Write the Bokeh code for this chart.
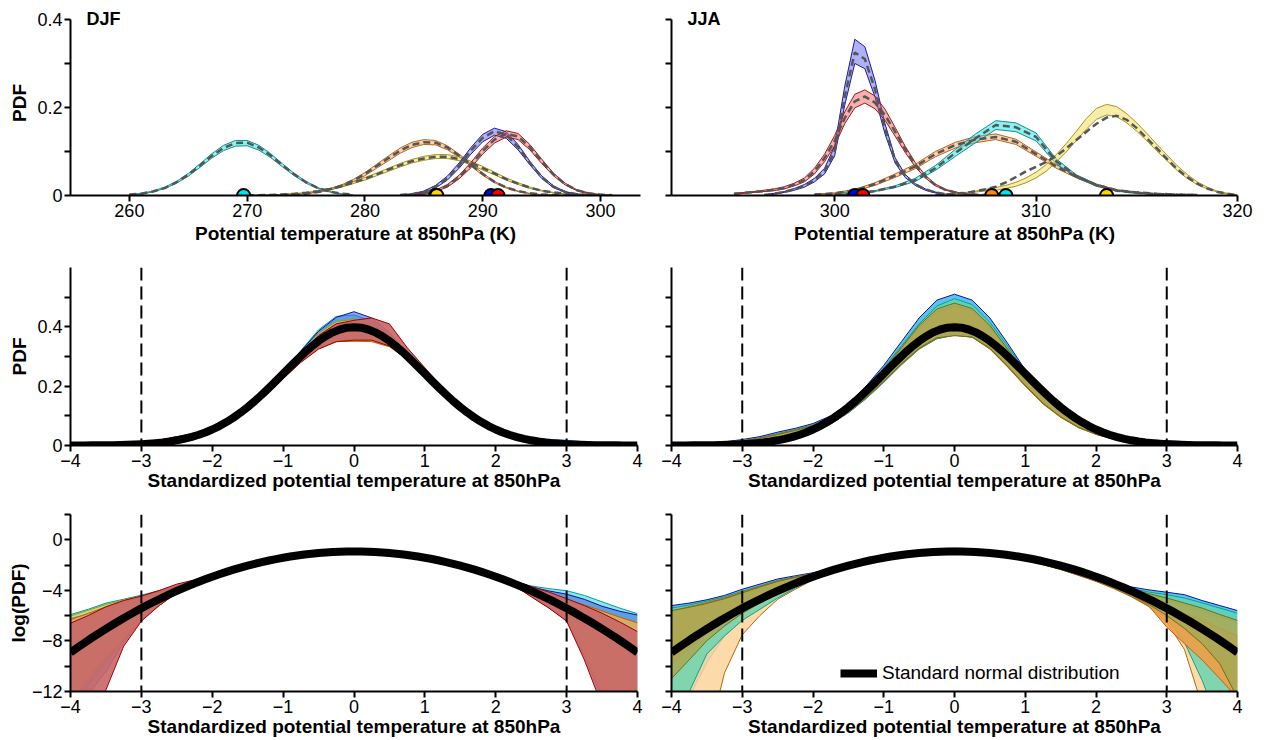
import numpy as np
from bokeh.plotting import figure
from bokeh.layouts import column, row
from bokeh.models import (Range1d, FixedTicker, CustomJSTickFormatter, Span, Label,
                          Legend, LegendItem, ColumnDataSource)
from bokeh.embed import file_html
from bokeh.resources import INLINE

FONT = "Liberation Sans"

# ---------------- Row 1 data: DJF (potential temperature, K) ----------------
djf_cyan_x = [260, 261, 262, 263, 264, 265, 266, 267, 268, 269, 270, 271, 272, 273, 274, 275, 276, 277, 278, 279]
djf_cyan_mid = [.002, .004, .009, .017, .030, .047, .068, .090, .108, .119, .120, .109, .091, .069, .048, .030, .017, .009, .004, .002]
djf_cyan_hi = [.002, .005, .010, .019, .032, .050, .072, .095, .114, .125, .125, .114, .095, .072, .050, .032, .018, .009, .004, .001]
djf_cyan_lo = [.001, .003, .008, .016, .028, .044, .064, .085, .102, .112, .113, .103, .086, .065, .045, .028, .016, .008, .003, .001]

djf_orange_x = [272, 273, 274, 275, 276, 277, 278, 279, 280, 281, 282, 283, 284, 285, 286, 287, 288, 289, 290, 291, 292, 293, 294, 295, 296, 297]
djf_orange_mid = [.0005, .001, .002, .004, .008, .014, .022, .034, .049, .067, .085, .102, .115, .121, .120, .109, .091, .070, .049, .031, .018, .010, .005, .002, .001, .000]
djf_orange_hi = [.001, .001, .002, .005, .009, .015, .024, .036, .052, .071, .090, .108, .121, .127, .125, .113, .094, .072, .051, .032, .019, .010, .005, .002, .001, .000]
djf_orange_lo = [.000, .001, .002, .004, .007, .012, .020, .031, .045, .062, .079, .096, .109, .116, .115, .104, .087, .067, .046, .029, .017, .009, .004, .002, .001, .000]

djf_yellow_x = [270, 271, 272, 273, 274, 275, 276, 277, 278, 279, 280, 281, 282, 283, 284, 285, 286, 287, 288, 289, 290, 291, 292, 293, 294, 295, 296, 297, 298, 299, 300]
djf_yellow_mid = [.0004, .0007, .0013, .0023, .0039, .0062, .0098, .0146, .021, .029, .038, .048, .059, .069, .078, .084, .088, .088, .083, .074, .062, .050, .037, .027, .018, .011, .007, .004, .002, .001, .0005]
djf_yellow_hi = [.0005, .0008, .0015, .0026, .0043, .0068, .0106, .0157, .023, .031, .041, .051, .062, .073, .082, .089, .093, .093, .088, .078, .066, .053, .040, .029, .019, .012, .007, .004, .002, .001, .0005]
djf_yellow_lo = [.0003, .0006, .0011, .0020, .0035, .0056, .0090, .0135, .019, .027, .035, .045, .055, .065, .074, .080, .084, .084, .079, .070, .058, .047, .035, .025, .016, .010, .006, .003, .002, .001, .0004]

djf_blue_x = [283, 284, 285, 286, 287, 288, 289, 290, 291, 292, 293, 294, 295, 296, 297, 298, 299]
djf_blue_mid = [.001, .003, .008, .020, .039, .068, .102, .131, .146, .138, .110, .074, .042, .020, .008, .003, .001]
djf_blue_hi = [.001, .004, .010, .023, .044, .074, .109, .139, .153, .145, .116, .078, .045, .022, .009, .003, .001]
djf_blue_lo = [.001, .003, .007, .017, .035, .062, .094, .122, .137, .130, .104, .070, .039, .018, .007, .002, .000]

djf_red_x = [283, 284, 285, 286, 287, 288, 289, 290, 291, 292, 293, 294, 295, 296, 297, 298, 299, 300, 301]
djf_red_mid = [.0004, .0014, .004, .010, .022, .042, .069, .101, .127, .140, .134, .110, .078, .048, .026, .012, .005, .002, .0005]
djf_red_hi = [.0005, .0017, .005, .012, .025, .046, .075, .108, .134, .147, .141, .116, .083, .051, .028, .013, .006, .002, .001]
djf_red_lo = [.0003, .0012, .003, .009, .019, .038, .063, .094, .119, .133, .127, .104, .073, .045, .024, .011, .004, .001, .000]

djf_means = [269.7, 286.0, 286.1, 290.7, 291.3]
djf_mean_colors = ["#00e5ee", "#ff8c00", "#ffd700", "#0000ff", "#ff0000"]

# ---------------- Row 1 data: JJA ----------------
jja_blue_x = [296.5, 297, 297.5, 298, 298.5, 299, 299.5, 300, 300.5, 301, 301.5, 302, 302.5, 303, 303.5, 304, 304.5, 305, 305.5, 306]
jja_blue_mid = [.001, .004, .008, .014, .022, .035, .055, .10, .225, .325, .31, .242, .152, .08, .045, .025, .014, .007, .003, .001]
jja_blue_hi = [.001, .005, .009, .016, .025, .039, .062, .112, .248, .355, .338, .262, .163, .086, .048, .027, .015, .008, .003, .001]
jja_blue_lo = [.001, .003, .007, .012, .019, .031, .049, .090, .205, .300, .288, .224, .140, .074, .041, .023, .012, .006, .002, .000]

jja_red_x = [295, 295.5, 296, 296.5, 297, 297.5, 298, 298.5, 299, 299.5, 300, 300.5, 301, 301.5, 302, 302.5, 303, 303.5, 304, 304.5, 305, 305.5, 306, 306.5, 307, 307.5]
jja_red_mid = [.004, .006, .008, .010, .013, .017, .025, .035, .055, .085, .124, .176, .214, .225, .211, .183, .145, .105, .070, .043, .024, .013, .007, .004, .002, .001]
jja_red_hi = [.005, .007, .009, .012, .015, .020, .028, .040, .062, .094, .136, .190, .230, .240, .226, .196, .155, .112, .075, .046, .026, .014, .008, .004, .002, .001]
jja_red_lo = [.003, .005, .007, .009, .011, .015, .022, .031, .049, .077, .113, .163, .199, .210, .197, .171, .135, .098, .065, .040, .022, .012, .006, .003, .001, .000]

jja_orange_x = [299, 300, 301, 302, 303, 304, 305, 306, 307, 308, 309, 310, 311, 312, 313, 314, 315, 316, 317, 318]
jja_orange_mid = [.002, .005, .012, .026, .045, .066, .094, .115, .127, .133, .122, .094, .066, .043, .024, .012, .007, .004, .002, .001]
jja_orange_hi = [.003, .006, .014, .029, .049, .071, .100, .121, .134, .140, .128, .099, .070, .046, .026, .013, .008, .004, .002, .001]
jja_orange_lo = [.002, .004, .010, .023, .041, .061, .088, .108, .120, .127, .116, .089, .062, .040, .022, .011, .006, .003, .001, .000]

jja_cyan_x = [300, 301, 302, 303, 304, 305, 306, 307, 308, 309, 310, 311, 312, 313, 314, 315, 316, 317, 318]
jja_cyan_mid = [.002, .005, .010, .020, .035, .062, .097, .130, .160, .155, .133, .078, .044, .023, .011, .006, .003, .002, .001]
jja_cyan_hi = [.002, .006, .011, .022, .039, .068, .105, .140, .170, .165, .142, .083, .047, .025, .012, .006, .003, .002, .001]
jja_cyan_lo = [.001, .004, .009, .018, .032, .057, .089, .120, .150, .145, .124, .072, .041, .021, .010, .005, .002, .001, .000]

jja_yellow_x = [305, 305.5, 306, 306.5, 307, 307.5, 308, 308.5, 309, 309.5, 310, 310.5, 311, 311.5, 312, 312.5, 313, 313.5, 314, 314.5, 315, 315.5, 316, 316.5, 317, 317.5, 318, 318.5, 319, 319.5, 320]
jja_yellow_mid = [.001, .002, .004, .006, .010, .014, .020, .030, .042, .055, .065, .076, .090, .107, .126, .145, .163, .177, .181, .172, .153, .130, .107, .083, .060, .042, .027, .016, .008, .004, .001]
jja_yellow_hi = [.001, .003, .005, .007, .010, .014, .018, .023, .030, .040, .053, .070, .093, .118, .146, .175, .198, .207, .202, .186, .165, .141, .116, .092, .068, .048, .031, .019, .010, .005, .001]
jja_yellow_lo = [.000, .001, .003, .005, .008, .010, .012, .016, .021, .029, .040, .055, .076, .099, .125, .151, .173, .183, .179, .165, .146, .124, .101, .079, .057, .039, .025, .015, .008, .003, .000]

jja_means = [301.0, 301.4, 307.8, 308.5, 313.5]
jja_mean_colors = ["#0000ff", "#ff0000", "#ff8c00", "#00e5ee", "#ffd700"]

# ---------------- Rows 2-3 data: standardized PDFs ----------------
# standard normal distribution (black curve), tabulated every 0.1
zn = [-4.0, -3.9, -3.8, -3.7, -3.6, -3.5, -3.4, -3.3, -3.2, -3.1, -3.0, -2.9, -2.8, -2.7, -2.6, -2.5, -2.4, -2.3, -2.2, -2.1,
      -2.0, -1.9, -1.8, -1.7, -1.6, -1.5, -1.4, -1.3, -1.2, -1.1, -1.0, -0.9, -0.8, -0.7, -0.6, -0.5, -0.4, -0.3, -0.2, -0.1,
      0.0, 0.1, 0.2, 0.3, 0.4, 0.5, 0.6, 0.7, 0.8, 0.9, 1.0, 1.1, 1.2, 1.3, 1.4, 1.5, 1.6, 1.7, 1.8, 1.9,
      2.0, 2.1, 2.2, 2.3, 2.4, 2.5, 2.6, 2.7, 2.8, 2.9, 3.0, 3.1, 3.2, 3.3, 3.4, 3.5, 3.6, 3.7, 3.8, 3.9, 4.0]
std_normal = [.000134, .000199, .000292, .000425, .000612, .000873, .00123, .00172, .00238, .00327, .00443, .00595, .00792, .0104, .0136,
              .0175, .0224, .0283, .0355, .0440, .0540, .0656, .0790, .0940, .1109, .1295, .1497, .1714, .1942, .2179,
              .2420, .2661, .2897, .3123, .3332, .3521, .3683, .3814, .3910, .3970, .3989,
              .3970, .3910, .3814, .3683, .3521, .3332, .3123, .2897, .2661, .2420, .2179, .1942, .1714, .1497, .1295,
              .1109, .0940, .0790, .0656, .0540, .0440, .0355, .0283, .0224, .0175, .0136, .0104, .00792, .00595, .00443,
              .00327, .00238, .00172, .00123, .000873, .000612, .000425, .000292, .000199, .000134]

# model envelopes, tabulated every 0.25
z = [-4, -3.75, -3.5, -3.25, -3, -2.75, -2.5, -2.25, -2, -1.75, -1.5, -1.25, -1, -0.75, -0.5, -0.25, 0,
     0.25, 0.5, 0.75, 1, 1.25, 1.5, 1.75, 2, 2.25, 2.5, 2.75, 3, 3.25, 3.5, 3.75, 4]

djf_z_cyan_hi = [.0027, .0041, .0067, .0091, .0125, .0180, .026, .038, .056, .086, .128, .182, .245, .320, .390, .435, .440,
                 .420, .370, .305, .238, .176, .124, .083, .054, .036, .026, .021, .0178, .0123, .0074, .0045, .0029]
djf_z_cyan_lo = [1e-6, 1e-5, 6e-5, 4e-4, .002, .006, .0155, .030, .051, .081, .120, .170, .228, .285, .330, .355, .360,
                 .360, .340, .295, .236, .175, .122, .081, .051, .029, .0125, .0050, .0019, 2e-4, 8e-6, 3e-7, 1e-8]
djf_z_blue_hi = [.0020, .0028, .0042, .0068, .0105, .0160, .024, .036, .054, .083, .125, .180, .245, .318, .385, .432, .451,
                 .430, .380, .312, .240, .175, .122, .083, .055, .036, .024, .0175, .0135, .0090, .0052, .0035, .0026]
djf_z_blue_lo = [5e-7, 5e-6, 3e-5, 3e-4, .0018, .0058, .0152, .0295, .050, .080, .119, .169, .226, .282, .328, .352, .358,
                 .357, .337, .292, .234, .173, .121, .080, .050, .028, .0115, .0046, .0017, 1e-4, 4e-6, 1e-7, 1e-8]
djf_z_yellow_hi = [.0024, .0038, .0060, .0085, .0118, .0165, .025, .037, .055, .085, .127, .181, .243, .312, .378, .418, .425,
                   .410, .365, .300, .235, .172, .120, .080, .051, .031, .0185, .0120, .0085, .0055, .0035, .0022, .0014]
djf_z_yellow_lo = [3e-6, 2e-5, 1e-4, 4e-4, .0018, .0055, .0150, .029, .050, .080, .118, .168, .226, .283, .327, .350, .352,
                   .352, .335, .290, .232, .172, .120, .079, .049, .027, .0120, .0050, .0018, 1.5e-4, 6e-6, 2e-7, 1e-8]
djf_z_orange_hi = [.0018, .0030, .0050, .0078, .0110, .0160, .024, .036, .055, .085, .127, .180, .243, .310, .372, .410, .418,
                   .405, .362, .300, .236, .174, .122, .081, .052, .032, .019, .0125, .0088, .0058, .0036, .0022, .0014]
djf_z_orange_lo = [2e-6, 1.5e-5, 8e-5, 3.5e-4, .0017, .0055, .0150, .029, .050, .080, .118, .168, .226, .282, .326, .350, .352,
                   .350, .333, .290, .232, .172, .120, .079, .049, .027, .0115, .0047, .0017, 1e-4, 5e-6, 2e-7, 1e-8]
djf_z_red_hi = [.00136, .0025, .0050, .0082, .0117, .0180, .030, .042, .062, .092, .133, .185, .245, .310, .370, .410, .422,
                .430, .410, .330, .262, .195, .138, .094, .064, .040, .025, .016, .0095, .0055, .0030, .0015, .0007]
djf_z_red_lo = [1e-8, 2e-7, 7e-6, 2.2e-4, .0016, .0055, .0150, .029, .050, .080, .118, .168, .225, .280, .325, .350, .355,
                .355, .335, .290, .232, .172, .120, .080, .050, .028, .011, .0045, .0016, 7.5e-5, 2e-6, 5e-8, 1e-9]

jja_z_cyan_hi = [.0055, .0067, .0087, .0123, .020, .030, .045, .058, .074, .100, .140, .200, .270, .350, .430, .490, .510,
                 .490, .430, .345, .255, .180, .120, .078, .050, .033, .024, .019, .0158, .0130, .0082, .0055, .0037]
jja_z_cyan_lo = [2e-7, 4e-6, 6e-5, 5e-4, .0020, .0050, .0110, .024, .045, .075, .112, .160, .215, .275, .330, .365, .380,
                 .372, .330, .270, .205, .145, .098, .063, .040, .024, .013, .0060, .0022, 4e-4, 3e-5, 1e-6, 3e-8]
jja_z_lorange_hi = [.0030, .0045, .0065, .0095, .0150, .024, .036, .050, .066, .092, .130, .185, .250, .320, .390, .440, .460,
                    .445, .395, .320, .240, .170, .113, .073, .046, .029, .018, .0120, .0080, .0055, .0035, .0022, .0014]
jja_z_lorange_lo = [1e-9, 1e-8, 1e-7, 2.7e-5, 5.5e-4, .0025, .0090, .020, .042, .072, .110, .158, .213, .272, .325, .360, .372,
                    .365, .325, .265, .200, .140, .095, .060, .037, .021, .011, .0050, .0015, 1.7e-4, 2e-6, 1e-8, 1e-9]
jja_z_teal_hi = [.0045, .0058, .0078, .011, .017, .026, .040, .054, .070, .097, .137, .195, .262, .335, .410, .470, .495,
                 .475, .415, .335, .250, .175, .118, .076, .048, .031, .021, .016, .013, .010, .0068, .0045, .0030]
jja_z_teal_lo = [1e-7, 6e-6, 1.2e-4, 5e-4, .0017, .0041, .010, .022, .044, .073, .110, .158, .213, .272, .325, .360, .372,
                 .365, .327, .268, .203, .143, .097, .062, .039, .023, .012, .0055, .0020, 3e-4, 1.5e-5, 4e-7, 1e-8]
jja_z_orange_hi = [.0035, .0050, .0070, .010, .016, .025, .038, .052, .068, .094, .133, .190, .255, .328, .398, .450, .470,
                   .455, .400, .325, .243, .172, .115, .075, .047, .030, .018, .0100, .0055, .0030, .0017, .0009, .0005]
jja_z_orange_lo = [5e-5, 2e-4, 6e-4, .0015, .0035, .0070, .0140, .027, .047, .076, .113, .161, .216, .275, .327, .362, .373,
                   .366, .326, .266, .201, .142, .096, .061, .038, .022, .0115, .0052, .0010, 2.7e-4, 7.5e-5, 1.7e-5, 3.7e-6]
jja_z_olive_hi = [.0037, .0048, .0065, .0095, .0150, .024, .037, .051, .067, .093, .133, .190, .256, .330, .405, .460, .480,
                  .462, .405, .325, .243, .170, .113, .074, .047, .030, .020, .0140, .010, .0067, .0045, .0027, .0017]
jja_z_olive_lo = [1.7e-5, 7.5e-5, 3.4e-4, .0011, .0030, .0067, .0135, .027, .048, .077, .114, .162, .217, .276, .328, .363, .370,
                  .366, .328, .268, .203, .143, .097, .062, .039, .023, .0125, .0060, .0025, 9e-4, 2.7e-4, 5.5e-5, 3.7e-6]

# ---------------- helpers ----------------
MINUS_FMT = "return tick < 0 ? '\u2212' + Math.abs(tick) : String(tick);"
PDF_FMT = "return tick == 0 ? '0' : tick.toFixed(1);"
EMPTY_FMT = "return '';"


def make_fig(w, h, mbl, mbr, mbt, mbb, xr, yr):
    p = figure(width=w, height=h, x_range=Range1d(*xr), y_range=Range1d(*yr),
               output_backend="svg", toolbar_location=None,
               min_border_left=mbl, min_border_right=mbr,
               min_border_top=mbt, min_border_bottom=mbb)
    p.xgrid.visible = False
    p.ygrid.visible = False
    p.outline_line_color = None
    p.background_fill_color = "white"
    p.border_fill_color = "white"
    for ax in (p.xaxis[0], p.yaxis[0]):
        ax.axis_line_width = 2
        ax.axis_line_color = "black"
        ax.major_tick_line_width = 2
        ax.minor_tick_line_width = 2
        ax.major_tick_line_color = "black"
        ax.minor_tick_line_color = "black"
        ax.major_tick_in = 0
        ax.major_tick_out = 6
        ax.minor_tick_in = 0
        ax.minor_tick_out = 6
        ax.major_label_text_font = FONT
        ax.major_label_text_font_size = "18px"
        ax.major_label_text_color = "black"
        ax.axis_label_text_font = FONT
        ax.axis_label_text_font_size = "19px"
        ax.axis_label_text_font_style = "bold"
        ax.axis_label_text_color = "black"
        ax.major_label_standoff = 2
        ax.axis_label_standoff = 0
    return p


def band(p, x, lo, hi, fill, alpha, edge, log=False, width=1):
    lo = np.asarray(lo, dtype=float)
    hi = np.asarray(hi, dtype=float)
    if log:
        lo, hi = np.log(lo), np.log(hi)
    p.varea(x=x, y1=lo, y2=hi, fill_color=fill, fill_alpha=alpha)
    p.line(x, lo, line_color=edge, line_width=width)
    p.line(x, hi, line_color=edge, line_width=width)


def season_label(p, text, yv):
    p.add_layout(Label(x=16, y=yv, x_units="screen", y_units="data", text=text,
                       text_font=FONT, text_font_style="bold", text_font_size="18px",
                       text_baseline="middle", text_color="black"))


# layout sizes (page coordinates start at 0,0)
LW, RW = 655, 604
H1, H2, H3 = 246, 249, 244
TOP_YMAX = 0.4203   # a little head-room above 0.4 so that the season label fits in the frame

# ---------------- Row 1 ----------------
top_curves_djf = [
    (djf_cyan_x, djf_cyan_lo, djf_cyan_hi, djf_cyan_mid, "#2ee6e6", 0.55, "#138f8f"),
    (djf_orange_x, djf_orange_lo, djf_orange_hi, djf_orange_mid, "#f4a460", 0.5, "#b8651b"),
    (djf_yellow_x, djf_yellow_lo, djf_yellow_hi, djf_yellow_mid, "#f2dc50", 0.5, "#a69520"),
    (djf_blue_x, djf_blue_lo, djf_blue_hi, djf_blue_mid, "#5050ee", 0.45, "#1a1aa0"),
    (djf_red_x, djf_red_lo, djf_red_hi, djf_red_mid, "#ee5050", 0.45, "#a01818"),
]
top_curves_jja = [
    (jja_blue_x, jja_blue_lo, jja_blue_hi, jja_blue_mid, "#5050ee", 0.45, "#1a1aa0"),
    (jja_red_x, jja_red_lo, jja_red_hi, jja_red_mid, "#ee5050", 0.45, "#a01818"),
    (jja_orange_x, jja_orange_lo, jja_orange_hi, jja_orange_mid, "#f4a460", 0.5, "#b8651b"),
    (jja_cyan_x, jja_cyan_lo, jja_cyan_hi, jja_cyan_mid, "#2ee6e6", 0.55, "#138f8f"),
    (jja_yellow_x, jja_yellow_lo, jja_yellow_hi, jja_yellow_mid, "#f2dc50", 0.5, "#a69520"),
]


def top_panel(p, curves, means, colors):
    for x, lo, hi, mid, fill, a, edge in curves:
        band(p, x, lo, hi, fill, a, edge)
    for x, lo, hi, mid, fill, a, edge in curves:
        p.line(x, mid, line_color="#555555", line_width=2.5, line_dash="7 4")
    src = ColumnDataSource(dict(x=means, y=[0] * len(means), c=colors))
    p.scatter("x", "y", source=src, size=13, fill_color="c", line_color="black", line_width=2)
    p.xaxis.axis_label_standoff = 3
    p.yaxis.bounds = (0, 0.4)
    p.yaxis.ticker = FixedTicker(ticks=[0, 0.2, 0.4], minor_ticks=[0.1, 0.3])


p1 = make_fig(LW, H1, 70, 15, 10, 50, (255, 303.4), (0, TOP_YMAX))
top_panel(p1, top_curves_djf, djf_means, djf_mean_colors)
p1.xaxis.ticker = FixedTicker(ticks=[260, 270, 280, 290, 300])
p1.yaxis.formatter = CustomJSTickFormatter(code=PDF_FMT)
p1.xaxis.axis_label = "Potential temperature at 850hPa (K)"
p1.yaxis.axis_label = "PDF"
p1.yaxis.axis_label_standoff = 4
season_label(p1, "DJF", 0.4)

p2 = make_fig(RW, H1, 16, 22, 10, 50, (291.9, 320), (0, TOP_YMAX))
top_panel(p2, top_curves_jja, jja_means, jja_mean_colors)
p2.xaxis.ticker = FixedTicker(ticks=[300, 310, 320])
p2.yaxis.formatter = CustomJSTickFormatter(code=EMPTY_FMT)
p2.xaxis.axis_label = "Potential temperature at 850hPa (K)"
season_label(p2, "JJA", 0.4)

# ---------------- Rows 2 and 3 ----------------
djf_bands = [
    (djf_z_cyan_lo, djf_z_cyan_hi, "#3fd5e0", 0.6, "#0a9a9a"),
    (djf_z_blue_lo, djf_z_blue_hi, "#3f6fe0", 0.6, "#1010a0"),
    (djf_z_yellow_lo, djf_z_yellow_hi, "#e8d850", 0.6, "#9a9a10"),
    (djf_z_orange_lo, djf_z_orange_hi, "#f0a050", 0.6, "#c06010"),
    (djf_z_red_lo, djf_z_red_hi, "#c96868", 0.92, "#a00000"),
]
jja_bands = [
    (jja_z_cyan_lo, jja_z_cyan_hi, "#20aef0", 0.75, "#1010a0"),
    (jja_z_lorange_lo, jja_z_lorange_hi, "#fcd6a0", 0.9, "#b06a10"),
    (jja_z_teal_lo, jja_z_teal_hi, "#5cd6b0", 0.75, "#10a080"),
    (jja_z_orange_lo, jja_z_orange_hi, "#f59a40", 0.85, "#c06010"),
    (jja_z_olive_lo, jja_z_olive_hi, "#a6a855", 0.88, "#707010"),
]


def std_panel(p, bands, log):
    for lo, hi, fill, a, edge in bands:
        band(p, z, lo, hi, fill, a, edge, log=log)
    yn = np.log(np.asarray(std_normal)) if log else std_normal
    r = p.line(zn, yn, line_color="black", line_width=8, line_join="round")
    for loc in (-3, 3):
        p.add_layout(Span(location=loc, dimension="height", line_color="black",
                          line_width=2, line_dash="13 6"))
    p.xaxis.ticker = FixedTicker(ticks=[-4, -3, -2, -1, 0, 1, 2, 3, 4])
    p.xaxis.formatter = CustomJSTickFormatter(code=MINUS_FMT)
    p.xaxis.axis_label = "Standardized potential temperature at 850hPa"
    return r


p3 = make_fig(LW, H2, 70, 18, 21, 50, (-4, 4), (0, 0.6))
std_panel(p3, djf_bands, False)
p3.yaxis.ticker = FixedTicker(ticks=[0, 0.2, 0.4], minor_ticks=[0.1, 0.3, 0.5])
p3.yaxis.formatter = CustomJSTickFormatter(code=PDF_FMT)
p3.yaxis.axis_label = "PDF"
p3.yaxis.axis_label_standoff = 4

p4 = make_fig(RW, H2, 16, 22, 21, 50, (-4, 4), (0, 0.6))
std_panel(p4, jja_bands, False)
p4.yaxis.ticker = FixedTicker(ticks=[0, 0.2, 0.4], minor_ticks=[0.1, 0.3, 0.5])
p4.yaxis.formatter = CustomJSTickFormatter(code=EMPTY_FMT)

p5 = make_fig(LW, H3, 70, 18, 19, 47, (-4, 4), (-12, 2))
std_panel(p5, djf_bands, True)
p5.yaxis.ticker = FixedTicker(ticks=[-12, -8, -4, 0], minor_ticks=[-10, -6, -2, 2])
p5.yaxis.formatter = CustomJSTickFormatter(code=MINUS_FMT)
p5.yaxis.axis_label = "log(PDF)"
p5.yaxis.axis_label_standoff = 0

p6 = make_fig(RW, H3, 16, 22, 19, 47, (-4, 4), (-12, 2))
r_norm = std_panel(p6, jja_bands, True)
p6.yaxis.ticker = FixedTicker(ticks=[-12, -8, -4, 0], minor_ticks=[-10, -6, -2, 2])
p6.yaxis.formatter = CustomJSTickFormatter(code=EMPTY_FMT)

legend = Legend(items=[LegendItem(label="Standard normal distribution", renderers=[r_norm])],
                location=(169, 7), glyph_width=37, glyph_height=20, label_height=20,
                label_standoff=5, padding=0, margin=0, spacing=0,
                label_text_font=FONT, label_text_font_size="19px", label_text_color="black",
                border_line_color=None, background_fill_alpha=0)
p6.add_layout(legend)

layout = column(row(p1, p2), row(p3, p4), row(p5, p6))
open("out.html", "w").write(file_html(layout, INLINE))
